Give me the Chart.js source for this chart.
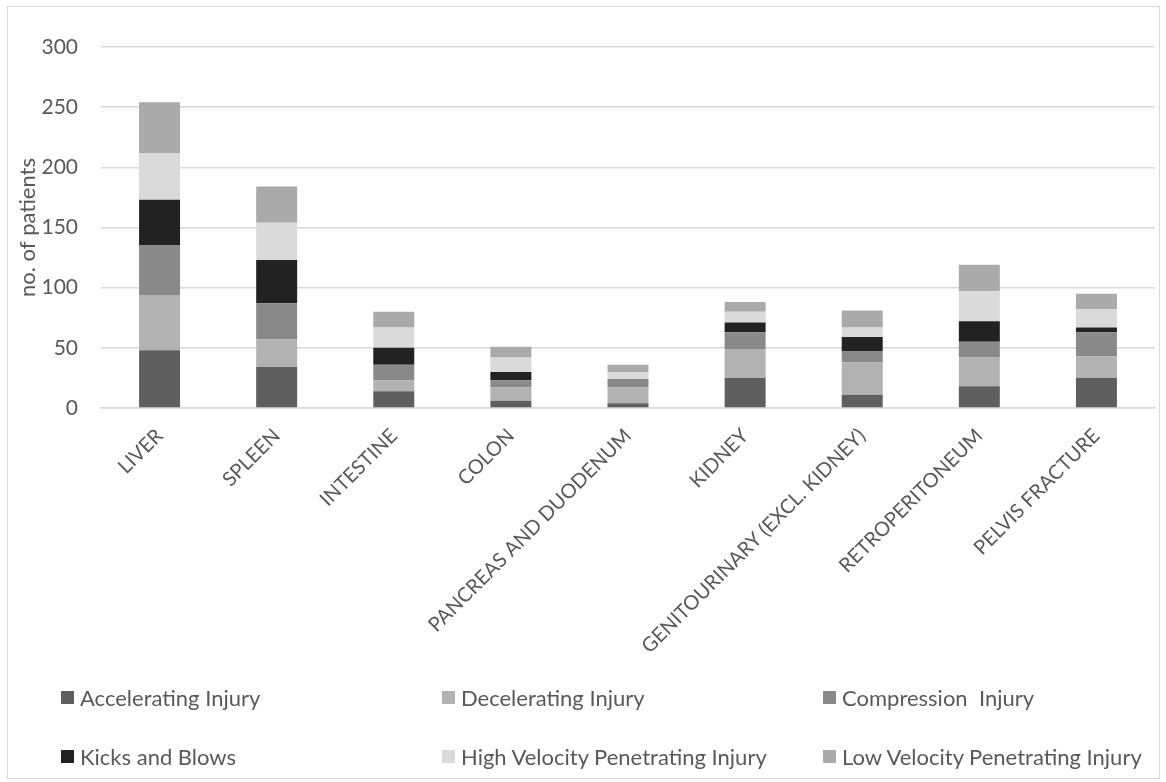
<!DOCTYPE html>
<html>
<head>
<meta charset="utf-8">
<script src="https://cdn.jsdelivr.net/npm/chart.js@4.4.0/dist/chart.umd.min.js"></script>
<style>
  html, body { margin: 0; padding: 0; background: #fff; }
  #wrap { position: relative; width: 1166px; height: 782px; overflow: hidden; }
  #frame { position: absolute; left: 7px; top: 6px; width: 1153px; height: 773px; border: 1px solid #d9d9d9; box-sizing: border-box; pointer-events: none; }
  canvas { position: absolute; left: 0; top: 0; }
  .lg { position: absolute; display: flex; align-items: center; font-family: Lato, "Open Sans", sans-serif; font-size: 22px; color: #595959; white-space: pre; }
  .lg i { display: inline-block; width: 13px; height: 13px; margin-right: 6px; }
</style>
</head>
<body>
<div id="wrap">
  <canvas id="c" width="1166" height="782"></canvas>
  <div id="frame"></div>
</div>
<script>
const categories = ["LIVER", "SPLEEN", "INTESTINE", "COLON", "PANCREAS AND DUODENUM", "KIDNEY", "GENITOURINARY (EXCL. KIDNEY)", "RETROPERITONEUM", "PELVIS FRACTURE"];
const seriesNames = ["Accelerating Injury", "Decelerating Injury", "Compression  Injury", "Kicks and Blows", "High Velocity Penetrating Injury", "Low Velocity Penetrating Injury"];
const seriesColors = ["#5f5f5f", "#b2b2b2", "#898989", "#222222", "#dadada", "#aaaaaa"];
const accelerating = [48, 34, 14, 6, 4, 25, 11, 18, 25];
const decelerating = [46, 23, 9, 11, 13, 24, 27, 24, 18];
const compression  = [41, 30, 13, 6, 7, 14, 9, 13, 20];
const kicksBlows   = [38, 36, 14, 7, 0, 8, 12, 17, 4];
const highVelocity = [39, 31, 17, 12, 6, 9, 8, 25, 15];
const lowVelocity  = [42, 30, 13, 9, 6, 8, 14, 22, 13];
const yTicks = [0, 50, 100, 150, 200, 250, 300];

const seriesValues = [accelerating, decelerating, compression, kicksBlows, highVelocity, lowVelocity];
const FONT = 'Lato, "Open Sans", sans-serif';
const TXT = '#595959';

new Chart(document.getElementById('c'), {
  type: 'bar',
  data: {
    labels: categories,
    datasets: seriesNames.map((n, i) => ({
      label: n,
      data: seriesValues[i],
      backgroundColor: seriesColors[i],
      borderWidth: 0,
      barPercentage: 0.35,
      categoryPercentage: 1.0
    }))
  },
  options: {
    responsive: false,
    animation: false,
    devicePixelRatio: 1,
    layout: { padding: { left: 7, right: 11, top: 47, bottom: 0 } },
    plugins: { legend: { display: false }, tooltip: { enabled: false } },
    scales: {
      x: {
        stacked: true,
        grid: { display: false, drawTicks: false },
        border: { display: true, color: '#d9d9d9', width: 1.5 },
        ticks: { color: TXT, font: { family: FONT, size: 20 }, minRotation: 45, maxRotation: 45, padding: 16, autoSkip: false },
        afterFit: s => { s.height = 782 - 408; }
      },
      y: {
        stacked: true,
        min: 0, max: 300,
        afterBuildTicks: s => { s.ticks = yTicks.map(v => ({ value: v })); },
        grid: { color: '#d9d9d9', lineWidth: 1.5, drawTicks: false },
        border: { display: false },
        ticks: { color: TXT, font: { family: FONT, size: 21 }, padding: 23 },
        title: { display: true, text: 'no. of patients', color: TXT, font: { family: FONT, size: 22 }, padding: { top: 8, bottom: 0 } },
        afterFit: s => { s.width = 101 - 7; }
      }
    }
  }
});

const legendX = [61, 442, 823];
const legendY = [697, 756];
const wrap = document.getElementById('wrap');
seriesNames.forEach((n, i) => {
  const d = document.createElement('div');
  d.className = 'lg';
  d.style.left = legendX[i % 3] + 'px';
  d.style.top = (legendY[Math.floor(i / 3)] - 14) + 'px';
  d.style.height = '28px';
  const sq = document.createElement('i');
  sq.style.background = seriesColors[i];
  d.appendChild(sq);
  d.appendChild(document.createTextNode(n));
  wrap.appendChild(d);
});
</script>
</body>
</html>
